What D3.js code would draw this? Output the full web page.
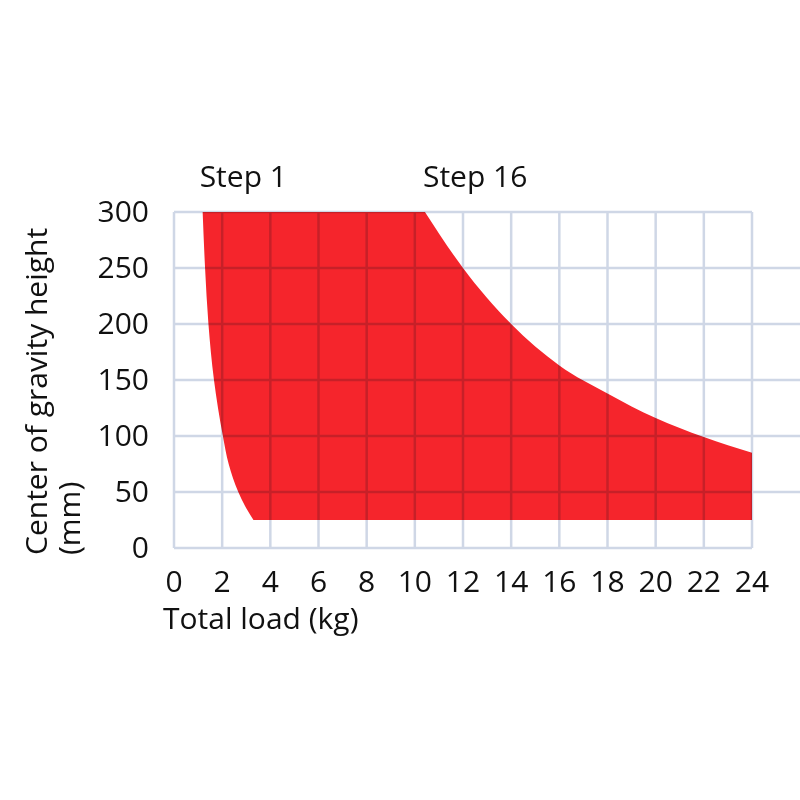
<!DOCTYPE html>
<html>
<head>
<meta charset="utf-8">
<script src="https://cdn.jsdelivr.net/npm/d3@7"></script>
<style>
  html, body { margin: 0; padding: 0; background: #fff; }
  svg { display: block; }
  text { font-family: "Open Sans", "Noto Sans", sans-serif; fill: #111; }
</style>
</head>
<body>
<svg id="chart" width="800" height="800"></svg>
<script>
// ---- data ----
const xTicks = [0, 2, 4, 6, 8, 10, 12, 14, 16, 18, 20, 22, 24];
const yTicks = [0, 50, 100, 150, 200, 250, 300];
// Step 1 boundary (load kg, height mm), top to bottom
const step1Load   = [1.19, 1.29, 1.43, 1.66, 2.03, 2.27, 2.67, 2.95, 3.3];
const step1Height = [300, 250, 200, 150, 100, 75, 50, 37.5, 25];
// Step 16 boundary (load kg, height mm), left to right
const step16Load   = [10.42, 12, 14, 16, 18, 20, 22, 24];
const step16Height = [300, 250, 200, 163, 138, 116, 99, 85];
const minHeight = 25;
const maxLoad = 24;
const labels = ["Step 1", "Step 16"];
const xTitle = "Total load (kg)";
const yTitle = ["Center of gravity height", "(mm)"];

// ---- layout ----
const FS = 30;
const svg = d3.select("#chart");
const x = d3.scaleLinear().domain([0, 24]).range([174, 752]);
const y = d3.scaleLinear().domain([0, 300]).range([548, 212]);

// ---- area ----
const lineL = d3.line().x(d => x(d[0])).y(d => y(d[1])).curve(d3.curveMonotoneY);
const lineR = d3.line().x(d => x(d[0])).y(d => y(d[1])).curve(d3.curveMonotoneX);
const left = step1Load.map((v, i) => [v, step1Height[i]]);
const right = step16Load.map((v, i) => [v, step16Height[i]]);
const p2 = lineR(right);           // top -> right end along Step 16
// Step 1 reversed: bottom -> top
const leftRev = lineL(left.slice().reverse()).replace(/^M/, "L");
const fullPath = p2 +
  "L" + x(maxLoad) + "," + y(minHeight) +
  leftRev + "Z";

svg.append("path")
  .attr("d", fullPath)
  .attr("fill", "#f5252c");

// ---- grid (multiplied over fill) ----
const grid = svg.append("g")
  .style("mix-blend-mode", "multiply")
  .attr("stroke", "#cfd7e6")
  .attr("stroke-width", 2.5)
  .attr("fill", "none");

grid.selectAll("line.v").data(xTicks).join("line")
  .attr("x1", d => x(d)).attr("x2", d => x(d))
  .attr("y1", y(300)).attr("y2", y(0));

grid.selectAll("line.h").data(yTicks).join("line")
  .attr("x1", x(0))
  .attr("x2", d => (d === 0 || d === 300) ? x(24) : 800)
  .attr("y1", d => y(d)).attr("y2", d => y(d));

// ---- axes labels ----
svg.append("g").selectAll("text").data(xTicks).join("text")
  .attr("x", d => x(d)).attr("y", 592)
  .attr("text-anchor", "middle")
  .attr("font-size", FS)
  .text(d => d);

svg.append("g").selectAll("text").data(yTicks).join("text")
  .attr("x", 149).attr("y", d => y(d) + 10)
  .attr("text-anchor", "end")
  .attr("font-size", FS)
  .text(d => d);

svg.append("text")
  .attr("x", 163).attr("y", 629)
  .attr("font-size", FS)
  .text(xTitle);

const yt = svg.append("text")
  .attr("transform", "translate(0,555) rotate(-90)")
  .attr("font-size", FS);
yt.append("tspan").attr("x", 0).attr("y", 47).text(yTitle[0]);
yt.append("tspan").attr("x", 0).attr("y", 80).text(yTitle[1]);

// ---- step labels ----
svg.append("text")
  .attr("x", x(step1Load[0]) - 3).attr("y", 187)
  .attr("font-size", FS)
  .text(labels[0]);
svg.append("text")
  .attr("x", x(step16Load[0]) - 2).attr("y", 187)
  .attr("font-size", FS)
  .text(labels[1]);
</script>
</body>
</html>
